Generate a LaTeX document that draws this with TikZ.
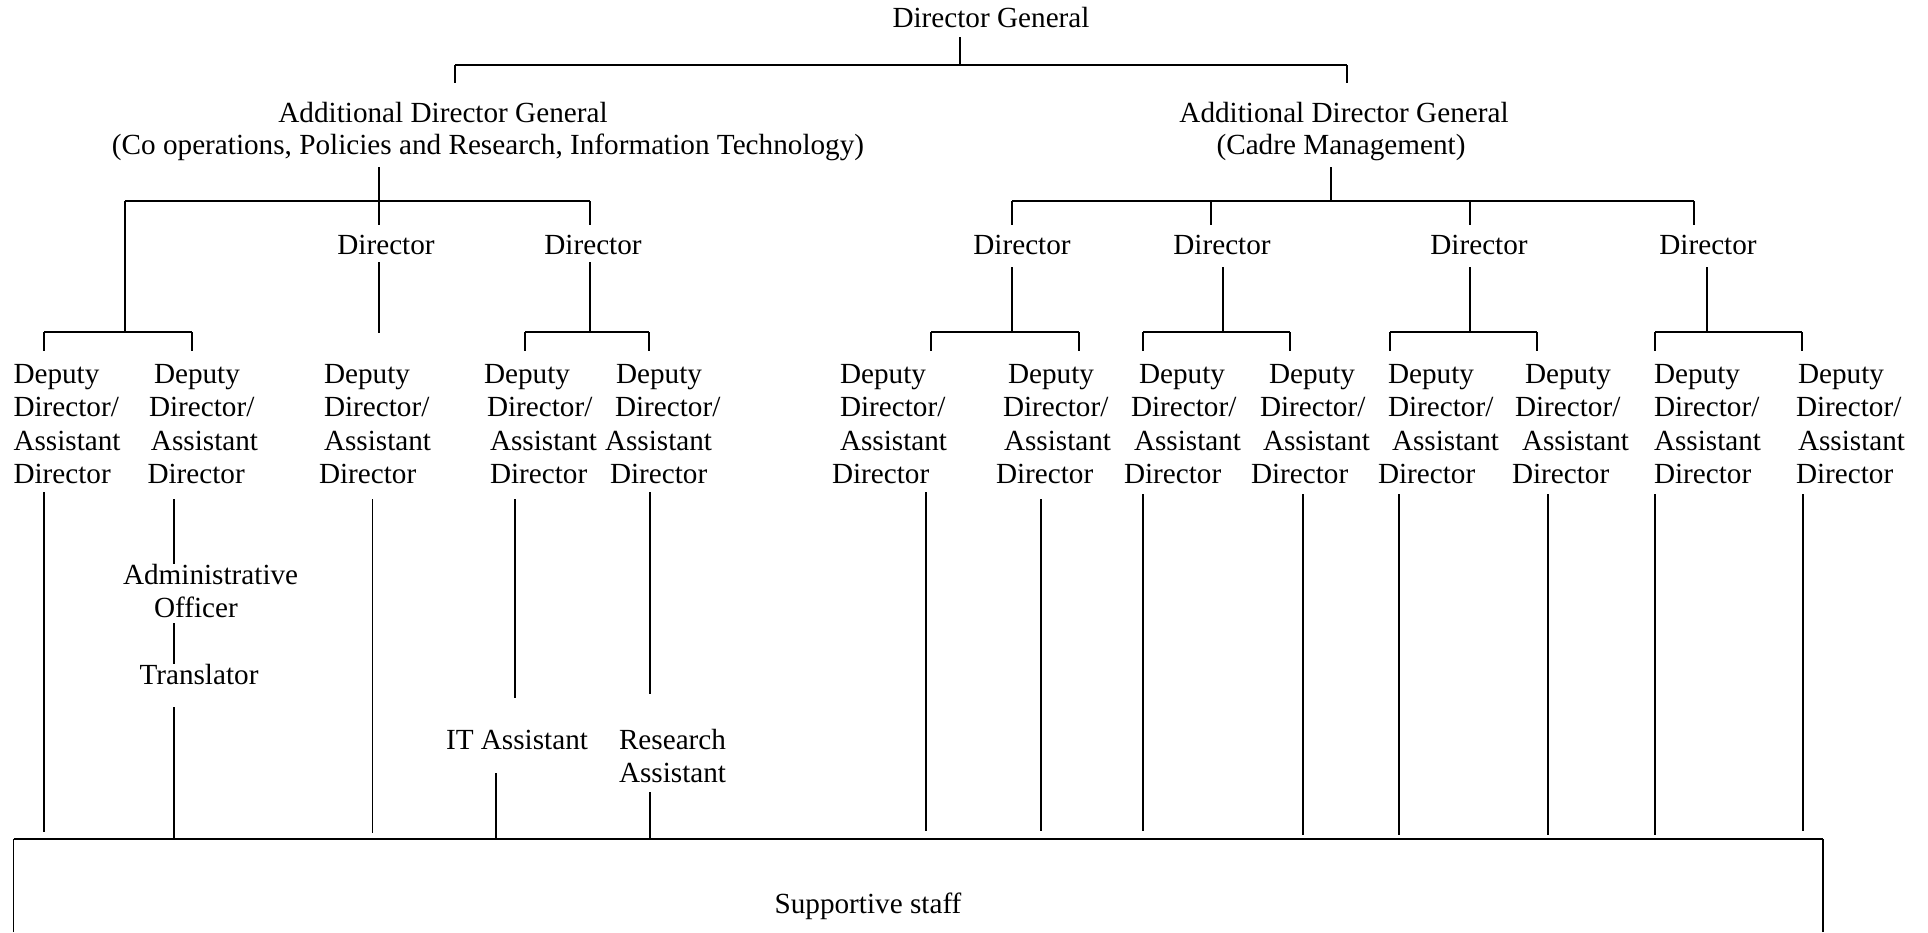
\documentclass[tikz,border=0pt]{standalone}
\usepackage{fontspec}
\setmainfont{Liberation Serif}
\newlength\mypx \setlength\mypx{0.5pt}
\newcommand\fs{\fontsize{14.6}{16.75}\selectfont}
\tikzset{
  lbl/.style={inner sep=0pt, outer sep=0pt, font=\fs},
  conn/.style={line width=0.9pt},
  hbar/.style={line width=1.2pt},
}
% deputy director column: name, left x, offsets (px) of the four lines
\newcommand\ddcol[6]{\node[lbl, anchor=base west] (#1) at (#2,383)
  {\begin{tabular}[t]{@{}l@{}}\hspace*{#3\mypx}Deputy\\\hspace*{#4\mypx}Director/\\\hspace*{#5\mypx}Assistant\\\hspace*{#6\mypx}Director\end{tabular}};}
\newcommand\vseg[4]{\coordinate (#1t) at (#2,#3); \coordinate (#1b) at (#2,#4); \draw[conn] (#1t) -- (#1b);}
\newcommand\hseg[4]{\coordinate (#1l) at (#3,#2); \coordinate (#1r) at (#4,#2); \draw[hbar] (#1l) -- (#1r);}
\begin{document}
\begin{tikzpicture}[x=0.5pt,y=-0.5pt]
\useasboundingbox (0,0) rectangle (1928,932);
% ---- texts
\node[lbl,anchor=base] (dg) at (991,27) {Director General};
\node[lbl,anchor=base] (adgl1) at (443,122) {Additional Director General};
\node[lbl,anchor=base] (adgl2) at (488,154) {(Co operations, Policies and Research, Information Technology)};
\node[lbl,anchor=base] (adgr1) at (1344,122) {Additional Director General};
\node[lbl,anchor=base] (adgr2) at (1341,154) {(Cadre Management)};
\node[lbl,anchor=base] (dir1) at (386,254) {Director};
\node[lbl,anchor=base] (dir2) at (593,254) {Director};
\node[lbl,anchor=base] (dir3) at (1022,254) {Director};
\node[lbl,anchor=base] (dir4) at (1222,254) {Director};
\node[lbl,anchor=base] (dir5) at (1479,254) {Director};
\node[lbl,anchor=base] (dir6) at (1708,254) {Director};
\ddcol{dd1}{13.5}{0}{0}{0}{0}
\ddcol{dd2}{147.5}{6.5}{1.5}{3.5}{0}
\ddcol{dd3}{319}{5}{5}{5}{0}
\ddcol{dd4}{484}{0}{3}{6}{6}
\ddcol{dd5}{605}{11}{10}{0}{5}
\ddcol{dd6}{832}{8}{8}{8}{0}
\ddcol{dd7}{996}{12}{7}{8}{0}
\ddcol{dd8}{1124}{15}{7}{10}{0}
\ddcol{dd9}{1251}{18}{9}{12}{0}
\ddcol{dd10}{1378}{10}{10}{14}{0}
\ddcol{dd11}{1512}{13}{3}{10}{0}
\ddcol{dd12}{1654}{0}{0}{0}{0}
\ddcol{dd13}{1796}{2}{0}{2}{0}
\node[lbl,anchor=base west] (admin) at (123,584)
  {\begin{tabular}[t]{@{}l@{}}Administrative\\\hspace*{31\mypx}Officer\end{tabular}};
\node[lbl,anchor=base] (transl) at (199,684) {Translator};
\node[lbl,anchor=base] (itass) at (517,749) {IT Assistant};
\node[lbl,anchor=base west] (resass) at (619,749)
  {\begin{tabular}[t]{@{}l@{}}Research\\Assistant\end{tabular}};
\node[lbl,anchor=base] (staff) at (868,913) {Supportive staff};
% ---- top level
\vseg{dgv}{960}{37}{65}
\hseg{dgbar}{65}{455}{1347}
\vseg{dgdl}{455}{65}{83}
\vseg{dgdr}{1347}{65}{83}
% ---- left ADG
\vseg{lv}{379}{167}{201}
\hseg{lbar}{201}{125}{590}
\vseg{ld2}{379}{201}{225}
\vseg{ld3}{590}{201}{225}
\vseg{ld1}{125}{201}{332}
\hseg{b1}{332}{44}{192}
\vseg{b1l}{44}{332}{351}
\vseg{b1r}{192}{332}{351}
\vseg{d1v}{379}{262}{333}
\vseg{d2v}{590}{262}{332}
\hseg{b2}{332}{525}{649}
\vseg{b2l}{525}{332}{351}
\vseg{b2r}{649}{332}{351}
% ---- right ADG
\vseg{rv}{1331}{167}{201}
\hseg{rbar}{201}{1012}{1694}
\vseg{rd1}{1012}{201}{225}
\vseg{rd2}{1211}{201}{225}
\vseg{rd3}{1470}{201}{225}
\vseg{rd4}{1694}{201}{225}
\vseg{d3v}{1012}{267}{332}
\vseg{d4v}{1223}{267}{332}
\vseg{d5v}{1470}{267}{332}
\vseg{d6v}{1707}{267}{333}
\hseg{b3}{332}{931}{1079}
\vseg{b3l}{931}{332}{351}
\vseg{b3r}{1079}{332}{351}
\hseg{b4}{332}{1143}{1290}
\vseg{b4l}{1143}{332}{351}
\vseg{b4r}{1290}{332}{351}
\hseg{b5}{332}{1390}{1537}
\vseg{b5l}{1390}{332}{351}
\vseg{b5r}{1537}{332}{351}
\hseg{b6}{332}{1655}{1802}
\vseg{b6l}{1655}{332}{351}
\vseg{b6r}{1802}{332}{351}
% ---- deputy director lines
\vseg{c1}{44}{492}{832}
\vseg{c2a}{174}{499}{564}
\vseg{c2b}{174}{623}{664}
\vseg{c2c}{174}{707}{839}
\vseg{c3}{372.5}{499}{832.5}
\vseg{c4a}{515}{499}{698}
\vseg{c4b}{496}{773}{839}
\vseg{c5a}{650}{492}{694}
\vseg{c5b}{650}{792}{839}
\vseg{c6}{926}{492}{831}
\vseg{c7}{1041}{499}{831}
\vseg{c8}{1143}{494}{831}
\vseg{c9}{1303}{494}{835}
\vseg{c10}{1399}{494}{835}
\vseg{c11}{1548}{494}{835}
\vseg{c12}{1655}{494}{835}
\vseg{c13}{1803}{494}{831}
% ---- supportive staff box (bottom edge cut off)
\coordinate (boxbl) at (13.5,932);
\coordinate (boxtl) at (13.5,839);
\coordinate (boxtr) at (1823,839);
\coordinate (boxbr) at (1823,932);
\draw[hbar] (boxtl) -- (boxtr);
\draw[conn] (boxbl) -- (boxtl);
\draw[conn] (boxbr) -- (boxtr);
\end{tikzpicture}
\end{document}
